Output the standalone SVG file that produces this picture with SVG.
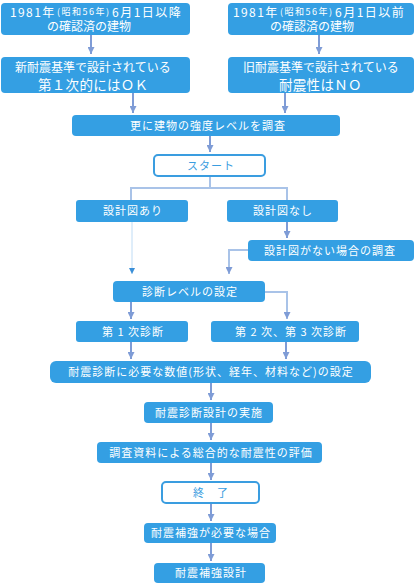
<svg xmlns="http://www.w3.org/2000/svg" width="416" height="584" viewBox="0 0 416 584">
<defs>
<style>
.b{fill:#349fe3}
.w{fill:#ffffff;stroke:#3a9de0;stroke-width:2}
.t{font-family:"Noto Sans CJK JP","Liberation Sans",sans-serif;fill:#ffffff;font-size:11px;text-anchor:middle;letter-spacing:1px}
.ts{font-family:"Noto Sans CJK JP","Liberation Sans",sans-serif;fill:#ffffff;font-size:12px}
.tb{font-family:"Noto Sans CJK JP","Liberation Sans",sans-serif;fill:#3a9de0;font-size:11px;text-anchor:middle;letter-spacing:1px}
.a{stroke:#7f9cd6;stroke-width:2;fill:none}
.l{stroke:#a9c3e8;stroke-width:2;fill:none}
.lt{stroke:#bfdcf5;stroke-width:1;fill:none}
</style>
<marker id="ah2" markerWidth="8" markerHeight="7" refX="7" refY="3.5" orient="auto" markerUnits="userSpaceOnUse" viewBox="0 0 8 7">
<path d="M0,0 L7,3.5 L0,7 Z" fill="#7f9cd6"/>
</marker>
<marker id="ah3" markerWidth="7" markerHeight="6" refX="6" refY="3" orient="auto" markerUnits="userSpaceOnUse" viewBox="0 0 7 6">
<path d="M0,0 L6,3 L0,6 Z" fill="#3a8fd8"/>
</marker>
</defs>
<g id="connectors">
<line class="a" x1="91" y1="35" x2="91" y2="54" marker-end="url(#ah2)"/>
<line class="a" x1="319" y1="35" x2="319" y2="54" marker-end="url(#ah2)"/>
<line class="a" x1="133" y1="93" x2="133" y2="113" marker-end="url(#ah2)"/>
<line class="a" x1="285" y1="93" x2="285" y2="113" marker-end="url(#ah2)"/>
<line class="a" x1="210" y1="136" x2="210" y2="152" marker-end="url(#ah2)"/>
<path class="l" d="M210,177 V188 M131,188 H287 M131,187 V200 M287,187 V200"/>
<line class="a" x1="287" y1="222" x2="287" y2="238" marker-end="url(#ah2)"/>
<line class="lt" x1="132" y1="222" x2="132" y2="274" marker-end="url(#ah3)"/>
<path class="l" d="M248,250 H229 V274" marker-end="url(#ah2)"/>
<line class="a" x1="131" y1="302" x2="131" y2="319" marker-end="url(#ah2)"/>
<path class="l" d="M265,292 H287 V319" marker-end="url(#ah2)"/>
<line class="a" x1="131" y1="342" x2="131" y2="359" marker-end="url(#ah2)"/>
<line class="a" x1="286" y1="342" x2="286" y2="359" marker-end="url(#ah2)"/>
<line class="a" x1="211" y1="383" x2="211" y2="400" marker-end="url(#ah2)"/>
<line class="a" x1="211" y1="423" x2="211" y2="440" marker-end="url(#ah2)"/>
<line class="a" x1="211" y1="463" x2="211" y2="480" marker-end="url(#ah2)"/>
<line class="a" x1="211" y1="504" x2="211" y2="521" marker-end="url(#ah2)"/>
<line class="a" x1="211" y1="543" x2="211" y2="561" marker-end="url(#ah2)"/>
</g>
<g id="n1">
<rect class="b" x="1" y="3" width="189" height="32" rx="4"/>
<text class="ts"><tspan x="10" y="16.5" style="letter-spacing:1.4px">1981年</tspan><tspan x="57" y="15" style="font-size:9px;letter-spacing:1.5px">(昭和56年)</tspan><tspan x="112" y="16.5" style="letter-spacing:1.5px">6月1日以降</tspan><tspan x="47" y="31">の確認済の建物</tspan></text>
</g>
<g id="n2">
<rect class="b" x="228" y="3" width="186" height="32" rx="4"/>
<text class="ts"><tspan x="233" y="16.5" style="letter-spacing:1.4px">1981年</tspan><tspan x="280" y="15" style="font-size:9px;letter-spacing:1.5px">(昭和56年)</tspan><tspan x="335" y="16.5" style="letter-spacing:1.5px">6月1日以前</tspan><tspan x="270" y="31">の確認済の建物</tspan></text>
</g>
<g id="n3">
<rect class="b" x="1" y="57" width="189" height="36" rx="4"/>
<text class="ts"><tspan x="15" y="71.5">新耐震基準で設計されている</tspan><tspan x="38" y="90" style="font-size:13.5px;letter-spacing:0.3px">第１次的にはＯＫ</tspan></text>
</g>
<g id="n4">
<rect class="b" x="228" y="57" width="186" height="36" rx="4"/>
<text class="ts"><tspan x="243" y="71.5">旧耐震基準で設計されている</tspan><tspan x="279" y="90" style="font-size:13.5px;letter-spacing:0.3px">耐震性はＮＯ</tspan></text>
</g>
<g id="n5">
<rect class="b" x="72" y="115" width="268" height="21" rx="4"/>
<text class="t" x="208" y="130">更に建物の強度レベルを調査</text>
</g>
<g id="n6">
<rect class="w" x="154" y="155" width="111" height="21" rx="4"/>
<text class="tb" x="211" y="170">スタート</text>
</g>
<g id="n7">
<rect class="b" x="76" y="200" width="112" height="22" rx="3"/>
<text class="t" x="133" y="215">設計図あり</text>
</g>
<g id="n8">
<rect class="b" x="227" y="200" width="111" height="22" rx="3"/>
<text class="t" x="283" y="215">設計図なし</text>
</g>
<g id="n9">
<rect class="b" x="248" y="240" width="166" height="21" rx="4"/>
<text class="t" x="330" y="255">設計図がない場合の調査</text>
</g>
<g id="n10">
<rect class="b" x="113" y="281" width="152" height="21" rx="4"/>
<text class="t" x="190" y="296">診断レベルの設定</text>
</g>
<g id="n11">
<rect class="b" x="76" y="321" width="112" height="21" rx="3"/>
<text class="t" x="133" y="336">第 1 次診断</text>
</g>
<g id="n12">
<rect class="b" x="211" y="321" width="148" height="21" rx="3"/>
<text class="t" x="291" y="336">第 2 次、第 3 次診断</text>
</g>
<g id="n13">
<rect class="b" x="50" y="361" width="321" height="22" rx="6"/>
<text class="t" x="211" y="376">耐震診断に必要な数値(形状、経年、材料など)の設定</text>
</g>
<g id="n14">
<rect class="b" x="144" y="402" width="129" height="21" rx="4"/>
<text class="t" x="209" y="417">耐震診断設計の実施</text>
</g>
<g id="n15">
<rect class="b" x="97" y="442" width="225" height="21" rx="4"/>
<text class="t" x="211" y="457">調査資料による総合的な耐震性の評価</text>
</g>
<g id="n16">
<rect class="w" x="162" y="482" width="97" height="21" rx="4"/>
<text class="tb" x="211" y="497">終　了</text>
</g>
<g id="n17">
<rect class="b" x="144" y="523" width="132" height="20" rx="4"/>
<text class="t" x="211" y="537">耐震補強が必要な場合</text>
</g>
<g id="n18">
<rect class="b" x="154" y="563" width="111" height="20" rx="4"/>
<text class="t" x="211" y="577">耐震補強設計</text>
</g>
</svg>
